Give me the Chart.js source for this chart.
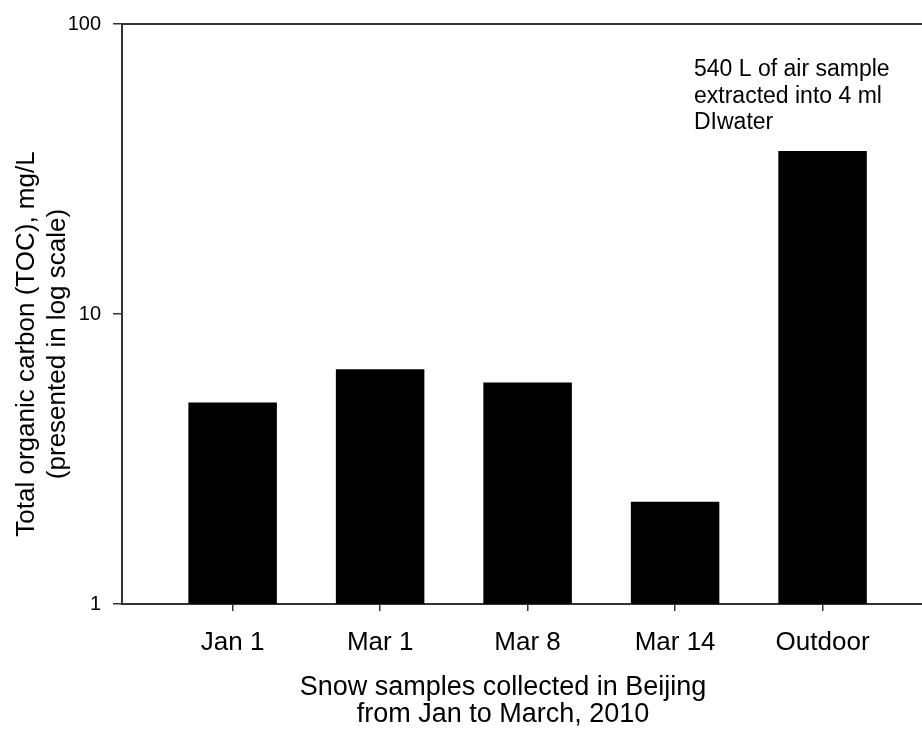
<!DOCTYPE html>
<html>
<head>
<meta charset="utf-8">
<script src="https://cdn.jsdelivr.net/npm/chart.js@4.4.1/dist/chart.umd.min.js"></script>
<style>
  html, body { margin: 0; padding: 0; background: #fff; overflow: hidden; }
  #wrap { width: 922px; height: 735px; position: relative; }
</style>
</head>
<body>
<div id="wrap"><canvas id="chart"></canvas></div>
<script>
// ── Données ──
const categories = ['Jan 1', 'Mar 1', 'Mar 8', 'Mar 14', 'Outdoor'];
const tocValues = [4.95, 6.45, 5.8, 2.25, 36.5];
const yTicks = [1, 10, 100];
const yTitle = ['Total organic carbon (TOC), mg/L', '(presented in log scale)'];
const xTitle = ['Snow samples collected in Beijing', 'from Jan to March, 2010'];
const noteLines = ['540 L of air sample', 'extracted into 4 ml', 'DIwater'];

const FONT = '"Liberation Sans", Arial, Helvetica, sans-serif';
const INK = '#000';
const AXIS = '#333';

// titres des axes + annotation + trait du haut
const extrasPlugin = {
  id: 'extras',
  afterDraw(chart) {
    const { ctx, chartArea } = chart;
    ctx.save();
    // trait du cadre en haut
    ctx.strokeStyle = AXIS;
    ctx.lineWidth = 2;
    ctx.beginPath();
    ctx.moveTo(chartArea.left, chartArea.top);
    ctx.lineTo(chartArea.right, chartArea.top);
    ctx.stroke();

    ctx.fillStyle = INK;
    ctx.textBaseline = 'alphabetic';

    // titre axe y (vertical, deux lignes)
    ctx.save();
    ctx.font = '26px ' + FONT;
    ctx.textAlign = 'center';
    yTitle.forEach((line, i) => {
      ctx.save();
      ctx.translate(33.5 + i * 31, 344);
      ctx.rotate(-Math.PI / 2);
      ctx.fillText(line, 0, 0);
      ctx.restore();
    });
    ctx.restore();

    // titre axe x (deux lignes)
    ctx.font = '27px ' + FONT;
    ctx.textAlign = 'center';
    xTitle.forEach((line, i) => ctx.fillText(line, 503, 695 + i * 27));

    // annotation au-dessus de "Outdoor"
    ctx.font = '23px ' + FONT;
    ctx.textAlign = 'left';
    noteLines.forEach((line, i) => ctx.fillText(line, 694, 76 + i * 26.5));
    ctx.restore();
  },
};

new Chart(document.getElementById('chart'), {
  type: 'bar',
  data: {
    datasets: [{
      data: tocValues.map((v, i) => ({ x: i, y: v })),
      backgroundColor: INK,
      borderWidth: 0,
      barPercentage: 0.6,
      categoryPercentage: 1,
    }],
  },
  options: {
    responsive: true, maintainAspectRatio: false,
    animation: false,
    layout: { padding: { top: 20, right: 0, bottom: 0, left: 0 } },
    plugins: { legend: { display: false }, tooltip: { enabled: false } },
    scales: {
      x: {
        type: 'linear',
        offset: false,
        min: -0.75,
        max: 4.674,
        afterBuildTicks: (scale) => { scale.ticks = categories.map((_, i) => ({ value: i })); },
        afterFit: (scale) => { scale.height = 131; },
        border: { display: true, color: AXIS, width: 2 },
        grid: { offset: false, drawOnChartArea: false, drawTicks: true, tickLength: 7, color: AXIS, lineWidth: 1.5 },
        ticks: {
          autoSkip: false, maxRotation: 0, padding: 16,
          color: INK, font: { family: FONT, size: 26 },
          callback: (v) => categories[v] ?? '',
        },
      },
      y: {
        type: 'logarithmic',
        min: 1,
        max: 100,
        afterBuildTicks: (scale) => { scale.ticks = yTicks.map((v) => ({ value: v })); },
        afterFit: (scale) => { scale.width = 122; },
        border: { display: true, color: AXIS, width: 2 },
        grid: { drawOnChartArea: false, drawTicks: true, tickLength: 9, color: AXIS, lineWidth: 1.5 },
        ticks: {
          padding: 12,
          color: INK, font: { family: FONT, size: 20 },
          callback: (v) => String(v),
        },
      },
    },
  },
  plugins: [extrasPlugin],
});
</script>
</body>
</html>
